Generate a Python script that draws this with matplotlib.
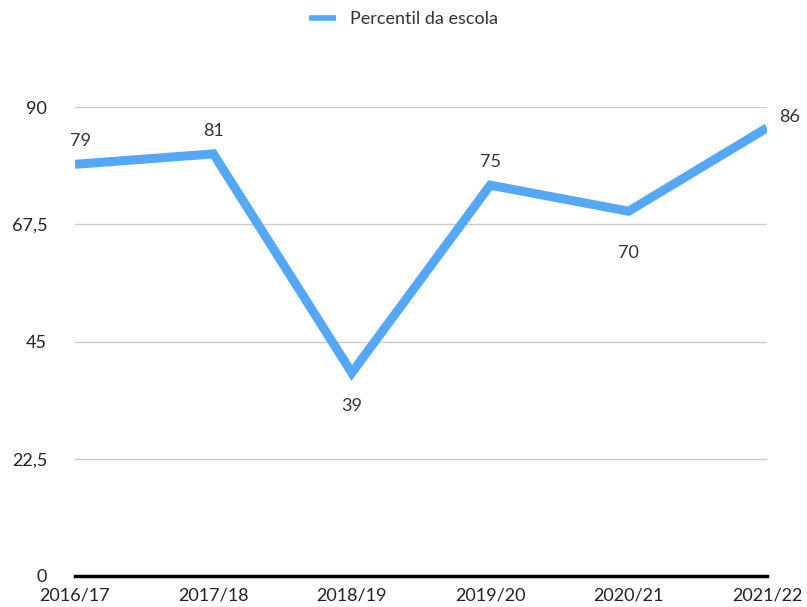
import matplotlib
matplotlib.use("Agg")
import matplotlib.pyplot as plt

plt.rcParams['font.family'] = ['Lato', 'DejaVu Sans']

anos = ['2016/17', '2017/18', '2018/19', '2019/20', '2020/21', '2021/22']
percentil = [79, 81, 39, 75, 70, 86]
yticks = [0, 22.5, 45, 67.5, 90]
ytick_labels = ['0', '22,5', '45', '67,5', '90']
# offsets (points) of each value label from its point
label_dx = [4, 0, 0, 0, 0, 16]
label_dy = [11, 11, -18, 11, -24, 2]

cor = '#55a8f8'

fig = plt.figure(figsize=(8.07, 6.07), dpi=100)
ax = fig.add_axes([75/807, 31/607, 692/807, 469/607])

x = list(range(len(anos)))
ax.plot(x, percentil, color=cor, lw=6.5, solid_joinstyle='miter',
        solid_capstyle='butt', label='Percentil da escola', zorder=3)

for xi, v, dx, dy in zip(x, percentil, label_dx, label_dy):
    ax.annotate(str(v), (xi, v), xytext=(dx, dy),
                textcoords='offset points', ha='center',
                va='bottom' if dy > 0 else 'top',
                fontsize=13, color='#333333')

ax.set_xlim(0, len(anos) - 1)
ax.set_ylim(0, 90)
ax.set_xticks(x)
ax.set_xticklabels(anos, fontsize=13, color='#222222')
ax.set_yticks(yticks)
ax.set_yticklabels(ytick_labels, fontsize=13, color='#222222')
ax.tick_params(axis='y', length=0, pad=20)
ax.tick_params(axis='x', length=0, pad=8)
ax.grid(axis='y', color='#cccccc', lw=1)
ax.set_axisbelow(True)
for s in ['top', 'right', 'left']:
    ax.spines[s].set_visible(False)
ax.spines['bottom'].set_color('black')
ax.spines['bottom'].set_linewidth(2.5)
ax.spines['bottom'].set_zorder(4)

leg = fig.legend(loc='upper center', bbox_to_anchor=(0.5, 1.008), frameon=False,
                 fontsize=13, handlelength=1.5, handletextpad=0.8)
for t in leg.get_texts():
    t.set_color('#333333')
leg.get_lines()[0].set_linewidth(4)

fig.savefig('out.png', dpi=100)
